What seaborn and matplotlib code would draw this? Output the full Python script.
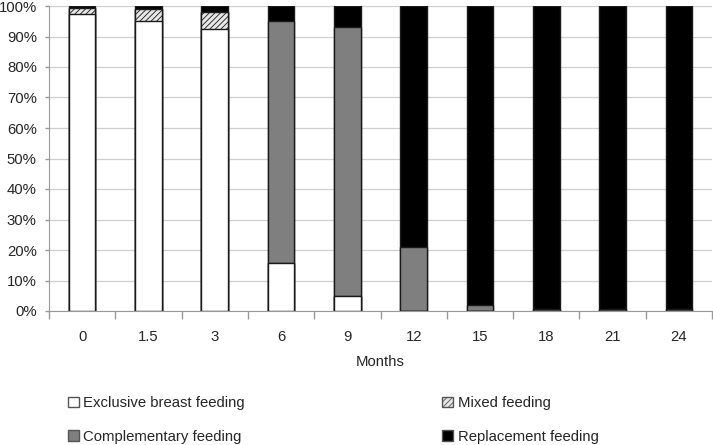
import matplotlib
matplotlib.use("Agg")
import matplotlib.pyplot as plt
import seaborn as sns
import numpy as np
import pandas as pd
from matplotlib.patches import Patch
from matplotlib.ticker import PercentFormatter, FixedLocator

months = ["0", "1.5", "3", "6", "9", "12", "15", "18", "21", "24"]
exclusive = [97.5, 95.2, 92.4, 15.6, 4.9, 0, 0, 0, 0, 0]
mixed = [1.8, 3.8, 5.6, 0, 0, 0, 0, 0, 0, 0]
complementary = [0, 0, 0, 79.4, 88.1, 20.9, 2.0, 0.7, 0.7, 0.7]
replacement = [0.7, 1.0, 2.0, 5.0, 7.0, 79.1, 98.0, 99.3, 99.3, 99.3]

labels = ["Exclusive breast feeding", "Mixed feeding", "Complementary feeding", "Replacement feeding"]
series = [exclusive, mixed, complementary, replacement]
colors = ["white", "#e6e6e6", "#7f7f7f", "black"]
hatches = [None, "//////", None, None]

sns.set_style("white")
plt.rcParams['font.family'] = ['Liberation Sans', 'DejaVu Sans']
plt.rcParams['hatch.linewidth'] = 0.6
plt.rcParams['hatch.color'] = '#666666'

FS = 10.7
fig = plt.figure(figsize=(7.13, 4.45), dpi=100)
ax = fig.add_axes([49/713, 1-311/445, (712-49)/713, (311-6)/445])

df = pd.DataFrame({"month": months})
cum = np.zeros(len(months))
layers = []
for s in series:
    cum = cum + np.array(s)
    layers.append(cum.copy())

# draw from top-most cumulative down so lower layers overlay
for i in reversed(range(len(series))):
    d = df.copy()
    d["val"] = layers[i]
    sns.barplot(data=d, x="month", y="val", order=months, color=colors[i],
                width=0.4, edgecolor="#1a1a1a", linewidth=1.0, ax=ax,
                hatch=hatches[i], saturation=1, errorbar=None)

ax.set_ylim(0, 100)
ax.set_xlim(-0.5, len(months) - 0.5)
ax.yaxis.set_major_locator(FixedLocator(np.arange(0, 101, 10)))
ax.yaxis.set_major_formatter(PercentFormatter(decimals=0))
ax.grid(axis="y", color="#cfcfcf", linewidth=0.9)
ax.set_axisbelow(True)
for sp in ["top", "right"]:
    ax.spines[sp].set_visible(False)
ax.spines["left"].set_color("#999999")
ax.spines["bottom"].set_color("#999999")
ax.tick_params(axis="y", length=3, color="#999999", width=1, labelsize=FS, pad=5.8, left=True)
ax.set_xticks(np.arange(len(months)))
ax.set_xticklabels(months)
ax.tick_params(axis="x", length=0, labelsize=FS, pad=13.5)
ax.set_xticks(np.arange(-0.5, len(months), 1), minor=True)
ax.tick_params(axis="x", which="minor", length=6, color="#999999", width=1, bottom=True)
ax.set_xlabel("Months", fontsize=FS, labelpad=8)
ax.set_ylabel("")

handles = [Patch(facecolor=colors[i], edgecolor="#555555", hatch=hatches[i], linewidth=1) for i in range(4)]
order = [0, 2, 1, 3]
fig.legend([handles[i] for i in order], [labels[i] for i in order], ncol=2,
           loc="upper left", bbox_to_anchor=(68/713, 1-396/445), frameon=False,
           fontsize=FS, handlelength=0.72, handleheight=0.72, handletextpad=0.3,
           columnspacing=13.3, labelspacing=1.34, borderpad=0, borderaxespad=0)

fig.savefig("out.png", dpi=100)
